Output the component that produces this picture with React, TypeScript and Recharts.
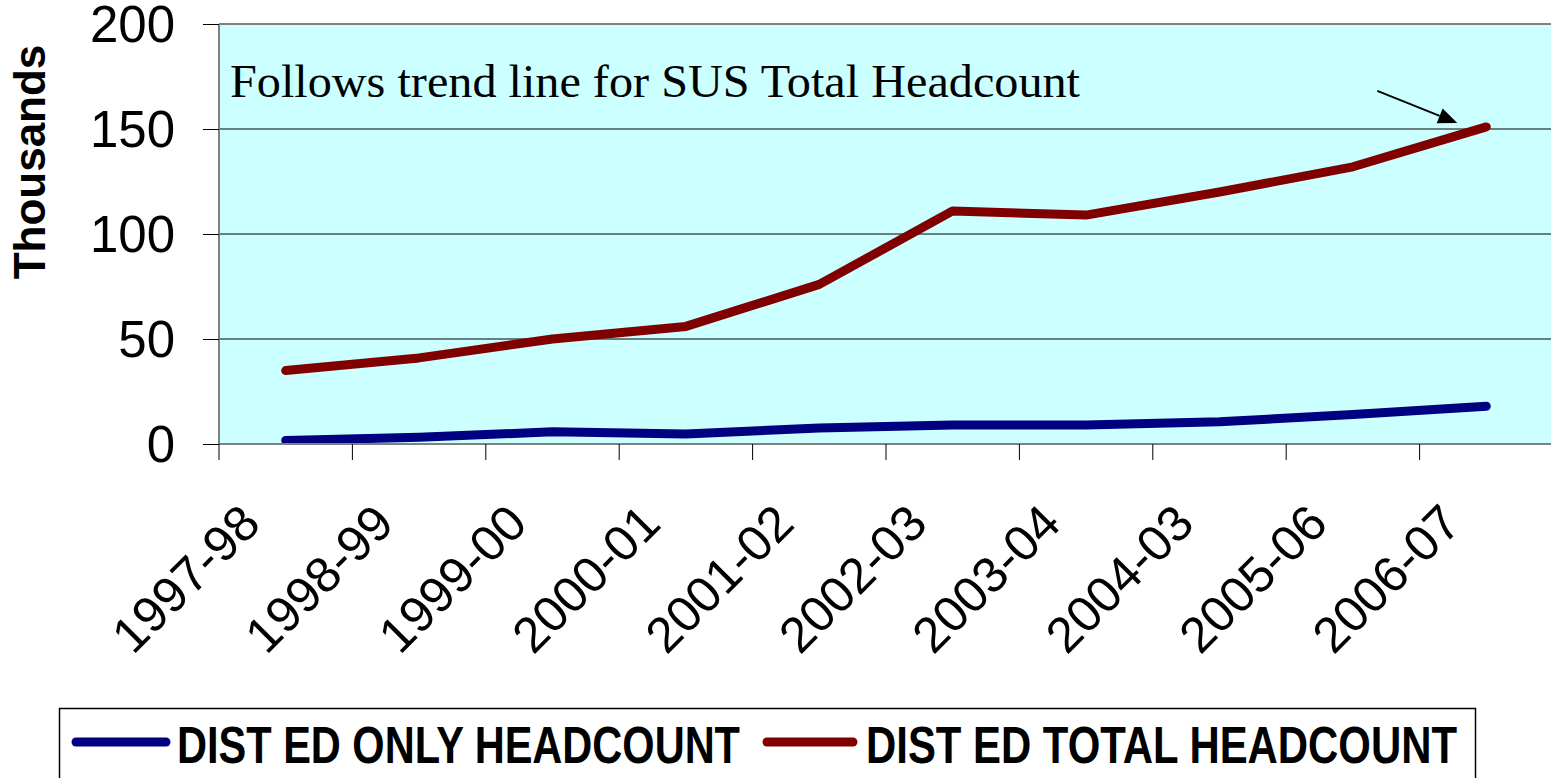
import React from 'react';
import {
  LineChart,
  Line,
  XAxis,
  YAxis,
  CartesianGrid,
  ReferenceLine,
  ReferenceDot,
} from 'recharts';

const years = ['1997-98', '1998-99', '1999-00', '2000-01', '2001-02', '2002-03', '2003-04', '2004-03', '2005-06', '2006-07'];
const distEdOnly = [1.7, 3.2, 5.8, 4.8, 7.6, 9, 9, 10.6, 14, 18];
const distEdTotal = [35, 41, 50, 56, 76, 111, 109, 120, 132, 151];
const yTicks = [0, 50, 100, 150, 200];

const series = [
  { key: 'only', name: 'DIST ED ONLY HEADCOUNT', color: '#000080', values: distEdOnly },
  { key: 'total', name: 'DIST ED TOTAL HEADCOUNT', color: '#800000', values: distEdTotal },
];

const chartData = years.map((year, i) => ({
  year,
  only: distEdOnly[i],
  total: distEdTotal[i],
}));

const sans = '"Liberation Sans", Arial, sans-serif';
const serif = '"Liberation Serif", "Times New Roman", serif';

const TICK = 16;
const TICK_MARGIN = 2;

// category label, plus tick marks on the category boundaries (Excel style)
const XTick = ({ x, y, payload, index, visibleTicksCount }: any) => {
  const half = payload.offset || 0;
  const axisY = y - TICK - TICK_MARGIN;
  const tx = x - 23;
  const ty = y + 64;
  const last = index === visibleTicksCount - 1;
  return (
    <g>
      <line x1={x - half} y1={axisY} x2={x - half} y2={axisY + TICK} stroke="#000" strokeWidth={1} />
      {last && (
        <line x1={x + half} y1={axisY} x2={x + half} y2={axisY + TICK} stroke="#000" strokeWidth={1} />
      )}
      <text
        x={tx}
        y={ty}
        transform={`rotate(-45 ${tx} ${ty})`}
        textAnchor="end"
        fontSize={50}
        fontFamily={sans}
        fill="#000"
      >
        {payload.value}
      </text>
    </g>
  );
};

// arrow pointing at the last point of the total series
const Arrow = ({ cx, cy }: any) => {
  const x1 = cx - 109;
  const y1 = cy - 36;
  const x2 = cx - 29;
  const y2 = cy - 4;
  const len = Math.hypot(x2 - x1, y2 - y1);
  const ux = (x2 - x1) / len;
  const uy = (y2 - y1) / len;
  const hl = 19;
  const hw = 8;
  const bx = x2 - ux * hl;
  const by = y2 - uy * hl;
  return (
    <g>
      <line x1={x1} y1={y1} x2={bx} y2={by} stroke="#000" strokeWidth={2} />
      <polygon
        points={`${x2},${y2} ${bx - uy * hw},${by + ux * hw} ${bx + uy * hw},${by - ux * hw}`}
        fill="#000"
      />
    </g>
  );
};

const legendItems = [
  { lineX1: 76, lineX2: 166, textX: 177, textLen: 563 },
  { lineX1: 767, lineX2: 853, textX: 866, textLen: 591 },
];

export default function App() {
  return (
    <div
      style={{
        position: 'absolute',
        left: 0,
        top: 0,
        width: 1551,
        height: 778,
        overflow: 'hidden',
        background: '#fff',
      }}
    >
      <LineChart
        width={1560}
        height={778}
        data={chartData}
        margin={{ top: 24, right: 7, left: 0, bottom: 0 }}
      >
        <CartesianGrid
          fill="#ccffff"
          stroke="#000"
          vertical={false}
          horizontal={{ shapeRendering: 'crispEdges' } as any}
        />
        <XAxis
          dataKey="year"
          scale="band"
          interval={0}
          height={334}
          tickLine={false}
          tickSize={TICK}
          tickMargin={TICK_MARGIN}
          axisLine={{ stroke: '#808080', strokeWidth: 2 }}
          tick={<XTick />}
        />
        <YAxis
          width={219}
          domain={[0, 200]}
          ticks={yTicks}
          interval={0}
          tickSize={TICK}
          tickMargin={28}
          tickLine={{ stroke: '#000', shapeRendering: 'crispEdges' }}
          axisLine={{ stroke: '#808080', strokeWidth: 2 }}
          tick={{ fill: '#000', fontSize: 51, fontFamily: sans }}
        />
        <ReferenceLine y={200} stroke="#808080" strokeWidth={2} />
        {series.map((s) => (
          <Line
            key={s.key}
            type="linear"
            dataKey={s.key}
            stroke={s.color}
            strokeWidth={9}
            strokeLinecap="round"
            strokeLinejoin="round"
            dot={false}
            activeDot={false}
            isAnimationActive={false}
          />
        ))}
        <ReferenceDot
          x={years[years.length - 1]}
          y={distEdTotal[distEdTotal.length - 1]}
          shape={<Arrow />}
        />
      </LineChart>
      <svg
        width={1551}
        height={778}
        style={{ position: 'absolute', left: 0, top: 0, pointerEvents: 'none' }}
      >
        <text
          transform="translate(45 162) rotate(-90)"
          textAnchor="middle"
          fontSize={44}
          fontWeight="bold"
          fontFamily={sans}
          fill="#000"
        >
          Thousands
        </text>
        <text
          x={230}
          y={97}
          fontSize={46}
          fontFamily={serif}
          textLength={850}
          lengthAdjust="spacingAndGlyphs"
          fill="#000"
        >
          Follows trend line for SUS Total Headcount
        </text>
        <rect x={59.5} y={708.5} width={1416} height={100} fill="#fff" stroke="#000" strokeWidth={1.5} />
        {series.map((s, i) => {
          const it = legendItems[i];
          return (
            <g key={s.key}>
              <line
                x1={it.lineX1}
                y1={742}
                x2={it.lineX2}
                y2={742}
                stroke={s.color}
                strokeWidth={9}
                strokeLinecap="round"
              />
              <text
                x={it.textX}
                y={763}
                fontSize={52}
                fontWeight="bold"
                fontFamily={sans}
                textLength={it.textLen}
                lengthAdjust="spacingAndGlyphs"
                fill="#000"
              >
                {s.name}
              </text>
            </g>
          );
        })}
      </svg>
    </div>
  );
}
